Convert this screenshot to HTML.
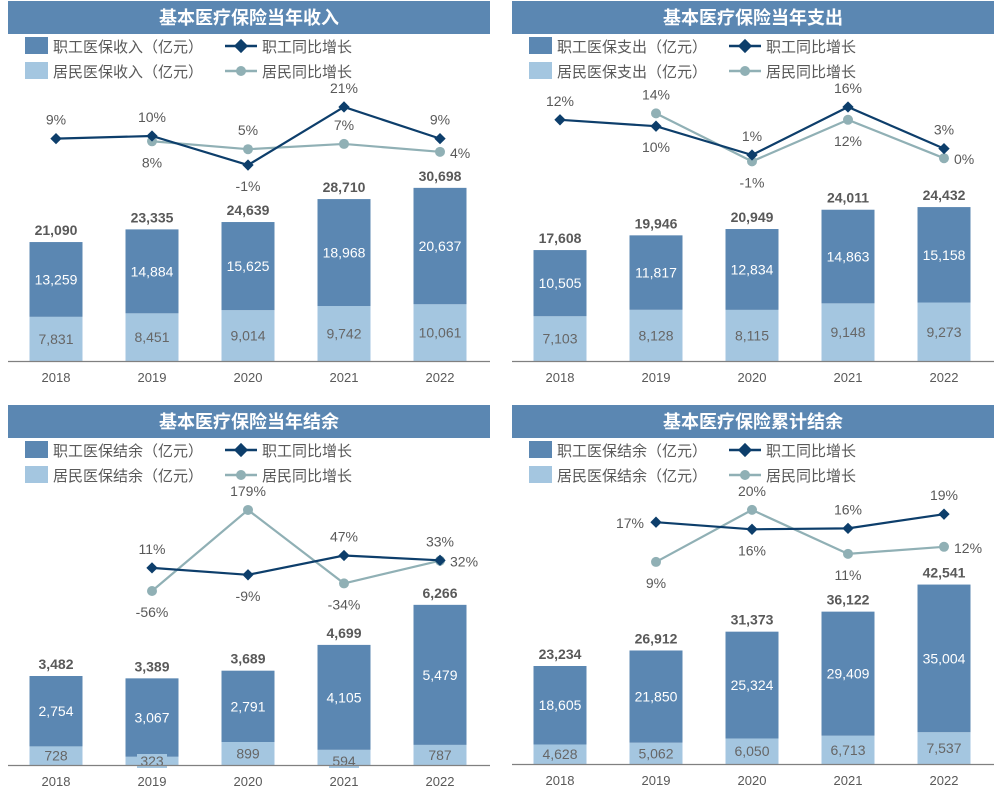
<!DOCTYPE html>
<html><head><meta charset="utf-8">
<style>
body{margin:0;background:#fff;}
svg{display:block;font-family:"Liberation Sans","Noto Sans CJK SC",sans-serif;}
</style></head>
<body>
<svg id="c" width="1002" height="804" viewBox="0 0 1002 804" xmlns="http://www.w3.org/2000/svg"></svg>
<script>
const years = ["2018","2019","2020","2021","2022"];
// Panel 1: income
const p1Emp = [13259,14884,15625,18968,20637];
const p1Res = [7831,8451,9014,9742,10061];
const p1Tot = [21090,23335,24639,28710,30698];
const p1EmpG = [9,10,-1,21,9];
const p1ResG = [null,8,5,7,4];
// Panel 2: expenditure
const p2Emp = [10505,11817,12834,14863,15158];
const p2Res = [7103,8128,8115,9148,9273];
const p2Tot = [17608,19946,20949,24011,24432];
const p2EmpG = [12,10,1,16,3];
const p2ResG = [null,14,-1,12,0];
// Panel 3: annual surplus
const p3Emp = [2754,3067,2791,4105,5479];
const p3Res = [728,323,899,594,787];
const p3Tot = [3482,3389,3689,4699,6266];
const p3EmpG = [null,11,-9,47,33];
const p3ResG = [null,-56,179,-34,32];
// Panel 4: cumulative surplus
const p4Emp = [18605,21850,25324,29409,35004];
const p4Res = [4628,5062,6050,6713,7537];
const p4Tot = [23234,26912,31373,36122,42541];
const p4EmpG = [null,17.4,15.9,16.1,19.1];
const p4ResG = [null,9,20,10.7,12.2];

const NS="http://www.w3.org/2000/svg";
const svg=document.getElementById('c');
function mk(tag,attrs,parent){const e=document.createElementNS(NS,tag);for(const k in attrs)e.setAttribute(k,attrs[k]);(parent||svg).appendChild(e);return e;}
function fmt(v){return v.toLocaleString('en-US');}

const C_DARK="#5b87b2",C_LIGHT="#a4c6e0",C_EMP="#0d3e6b",C_RES="#90b0b5",C_TXT="#595959";

const panels=[
 {x:0,y:0,title:"基本医疗保险当年收入",k:"收入",emp:p1Emp,res:p1Res,tot:p1Tot,eg:p1EmpG,rg:p1ResG,base:361,bs:0.00564,gz:162.4,gs:2.64,
  eLab:["a","a","b","a","a"],rLab:["","b","a","a","r"]},
 {x:504,y:0,title:"基本医疗保险当年支出",k:"支出",emp:p2Emp,res:p2Res,tot:p2Tot,eg:p2EmpG,rg:p2ResG,base:361,bs:0.0063,gz:158.2,gs:3.2,
  eLab:["a","b","a","a","a"],rLab:["","a","b","b","r"]},
 {x:0,y:404,title:"基本医疗保险当年结余",k:"结余",emp:p3Emp,res:p3Res,tot:p3Tot,eg:p3EmpG,rg:p3ResG,base:765,bs:0.02556,gz:571.7,gs:0.345,
  eLab:["","a","b","a","a"],rLab:["","b","a","b","r"]},
 {x:504,y:404,title:"基本医疗保险累计结余",k:"结余",emp:p4Emp,res:p4Res,tot:p4Tot,eg:p4EmpG,rg:p4ResG,base:764,bs:0.004218,gz:604.5,gs:4.73,
  eLab:["","l","b","a","a"],rLab:["","b","a","b","r"]}
];

panels.forEach((p,pi)=>{
 const g=mk('g',{});
 
 
 const h=mk('rect',{x:p.x+8,y:p.y+1,width:482,height:33,fill:C_DARK},g);
 
 
 const t=mk('text',{x:p.x+249,y:p.y+24,'text-anchor':'middle',fill:'#fff','font-size':18,'font-weight':'bold'},g);
 t.textContent=p.title;
 
 
 // legend
 const L=[["rect",C_DARK,"职工医保"+p.k+"（亿元）",0,0],["rect",C_LIGHT,"居民医保"+p.k+"（亿元）",0,25],["emp",C_EMP,"职工同比增长",200,0],["res",C_RES,"居民同比增长",200,25]];
 L.forEach((l,i)=>{
  const lg=mk('g',{},g);
  
  
  const lx=p.x+25+l[3], ly=p.y+46+l[4];
  if(l[0]==="rect"){mk('rect',{x:lx,y:ly-9,width:23,height:17,fill:l[1]},lg);}
  else{mk('line',{x1:lx,y1:ly,x2:lx+32,y2:ly,stroke:l[1],'stroke-width':2.5},lg);
   if(l[0]==="emp")mk('rect',{x:lx+11,y:ly-5,width:10,height:10,fill:l[1],transform:`rotate(45 ${lx+16} ${ly})`},lg);
   else mk('circle',{cx:lx+16,cy:ly,r:5,fill:l[1]},lg);}
  const tx=mk('text',{x:lx+(l[0]==="rect"?28:37),y:ly+6,fill:C_TXT,'font-size':15},lg);
  tx.textContent=l[2];
 });
 const cx=i=>p.x+56+i*96;
 const bw=53;
 const H=v=>v*p.bs;
 years.forEach((yr,i)=>{
  const x=cx(i)-bw/2;
  const hr=H(p.res[i]), he=H(p.emp[i]);
  const r1=mk('rect',{x:x,y:p.base-hr,width:bw,height:hr,fill:C_LIGHT},g);
  
  
  const r2=mk('rect',{x:x,y:p.base-hr-he,width:bw,height:he,fill:C_DARK},g);
  
  
  const tt=mk('text',{x:cx(i),y:p.base-H(p.tot[i])-7,'text-anchor':'middle',fill:C_TXT,'font-size':14,'font-weight':'bold'},g);
  tt.textContent=fmt(p.tot[i]);
  
  
  const te=mk('text',{x:cx(i),y:p.base-hr-he/2+5,'text-anchor':'middle',fill:'#fff','font-size':14},g);
  te.textContent=fmt(p.emp[i]);
  
  
  let ry=p.base-Math.max(hr,18)/2+5;
  if(hr<18){mk('rect',{x:cx(i)-15,y:p.base-11,width:30,height:14,fill:C_LIGHT},g);ry=p.base+1;}
  const tr=mk('text',{x:cx(i),y:ry,'text-anchor':'middle',fill:'#666','font-size':14},g);
  tr.textContent=fmt(p.res[i]);
  
  
  const ty=mk('text',{x:cx(i),y:p.base+21,'text-anchor':'middle',fill:C_TXT,'font-size':13},g);
  ty.textContent=yr;
  
  
 });
 const ax=mk('line',{x1:p.x+8,y1:p.base+0.5,x2:p.x+490,y2:p.base+0.5,stroke:'#808080','stroke-width':1.2},g);
 
 
 const Y=v=>p.gz-v*p.gs;
 [[p.rg,C_RES,"res",p.rLab],[p.eg,C_EMP,"emp",p.eLab]].forEach(([arr,col,kind,labs])=>{
  const pts=[];arr.forEach((v,i)=>{if(v!==null)pts.push([cx(i),Y(v),v,i]);});
  const pl=mk('polyline',{points:pts.map(q=>q[0]+','+q[1]).join(' '),fill:'none',stroke:col,'stroke-width':2.2},g);
  
  
  pts.forEach(q=>{
   let m;
   if(kind==="emp")m=mk('rect',{x:q[0]-4,y:q[1]-4,width:8,height:8,fill:col,transform:`rotate(45 ${q[0]} ${q[1]})`},g);
   else m=mk('circle',{cx:q[0],cy:q[1],r:5,fill:col},g);
   
   
   const pos=labs[q[3]];
   let lx=q[0],ly=q[1]-14,an='middle';
   if(pos==="b")ly=q[1]+26;
   if(pos==="r"){lx=q[0]+10;ly=q[1]+6;an='start';}
   if(pos==="l"){lx=q[0]-12;ly=q[1]+6;an='end';}
   const lt=mk('text',{x:lx,y:ly,'text-anchor':an,fill:C_TXT,'font-size':14},g);
   lt.textContent=Math.round(q[2])+'%';
   
   
  });
 });
});
</script>
</body></html>
